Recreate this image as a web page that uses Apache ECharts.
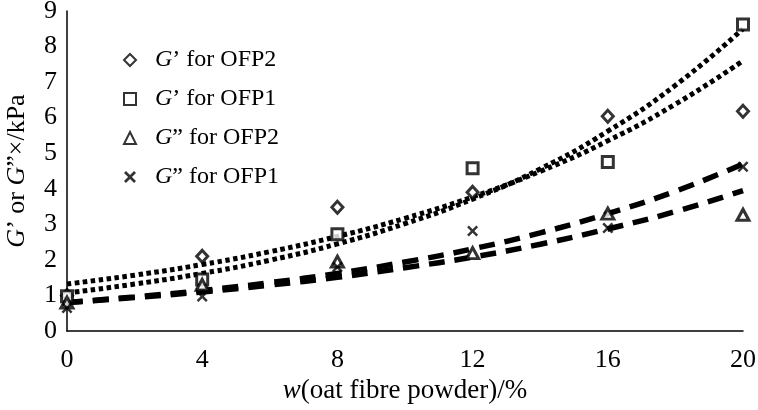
<!DOCTYPE html>
<html><head><meta charset="utf-8">
<script src="https://cdn.jsdelivr.net/npm/echarts@6/dist/echarts.min.js"></script>
<style>html,body{margin:0;padding:0;background:#fff}#c{width:758px;height:410px}</style>
</head><body><div id="c"></div>
<script>
const xTicks = [0, 4, 8, 12, 16, 20];
const gp_ofp2 = [1.0, 2.1, 3.48, 3.9, 6.04, 6.18];
const gp_ofp1 = [0.98, 1.45, 2.72, 4.58, 4.75, 8.62];
const gpp_ofp2 = [0.8, 1.3, 1.95, 2.19, 3.3, 3.27];
const gpp_ofp1 = [0.65, 0.97, 1.8, 2.81, 2.9, 4.62];
// trendlines
const trendX = [0, 2, 4, 6, 8, 10, 12, 14, 16, 18, 20];
const trend_gp_ofp2 = [1.32, 1.57, 1.87, 2.23, 2.66, 3.17, 3.77, 4.49, 5.35, 6.38, 7.6];
const trend_gp_ofp1 = [1.07, 1.32, 1.62, 1.99, 2.45, 3.02, 3.71, 4.56, 5.62, 6.91, 8.5];
const trend_gpp_ofp2 = [0.80, 0.94, 1.10, 1.29, 1.51, 1.78, 2.08, 2.44, 2.87, 3.36, 3.95];
const trend_gpp_ofp1 = [0.80, 0.96, 1.14, 1.36, 1.62, 1.94, 2.31, 2.76, 3.30, 3.93, 4.7];
const names = ['G’ for OFP2', 'G’ for OFP1', 'G” for OFP2', 'G” for OFP1'];

const FONT = 'Liberation Serif';
const pair = (xs, ys) => xs.map((x, i) => [x, ys[i]]);
const XPATH = 'path://M0,1.6L1.6,0L5,3.4L8.4,0L10,1.6L6.6,5L10,8.4L8.4,10L5,6.6L1.6,10L0,8.4L3.4,5Z';
const hollow = {color: '#fff', borderColor: '#000', borderWidth: 3};

const chart = echarts.init(document.getElementById('c'), null, {renderer: 'canvas'});
const dotted = {color: '#000', width: 5, type: [4.5, 3.5], cap: 'butt'};
const dashed = {color: '#000', width: 5.5, type: [16, 10], cap: 'butt'};
const trend = (data, ls) => ({type: 'line', data: pair(trendX, data), smooth: true, showSymbol: false,
  symbol: 'none', lineStyle: ls, silent: true, z: 3});
const rt = (sz) => ({fontFamily: FONT, color: '#000', fontSize: sz,
  rich: {i: {fontStyle: 'italic', fontFamily: FONT, fontSize: sz}, n: {fontFamily: FONT, fontSize: sz}, s: {width: 14}}});
chart.setOption({
  animation: false,
  textStyle: {fontFamily: FONT, color: '#000'},
  grid: {left: 67, right: 15, top: 11, bottom: 79, containLabel: false, outerBoundsMode: 'none'},
  legend: {
    orient: 'vertical', left: 118, top: 43, itemGap: 15, itemWidth: 12, itemHeight: 12,
    data: names,
    formatter: function (n) { return '{s|}{i|G}{n|' + n.slice(1) + '}'; },
    textStyle: rt(24)
  },
  xAxis: {
    type: 'value', min: 0, max: 20, interval: 4,
    name: '{i|w}{n|(oat fibre powder)/%}', nameLocation: 'middle', nameGap: 46,
    nameTextStyle: rt(27),
    axisLine: {lineStyle: {color: '#000', width: 1.5}}, axisTick: {show: false}, splitLine: {show: false},
    axisLabel: {fontFamily: FONT, color: '#000', fontSize: 26, margin: 16}
  },
  yAxis: {
    type: 'value', min: 0, max: 9, interval: 1,
    name: '{i|G}{n|’ or }{i|G}{n|”×/kPa}', nameLocation: 'middle', nameGap: 37, nameRotate: 90,
    nameTextStyle: rt(26),
    axisLine: {show: true, lineStyle: {color: '#000', width: 1.5}}, axisTick: {show: false}, splitLine: {show: false},
    axisLabel: {fontFamily: FONT, color: '#000', fontSize: 26, margin: 10}
  },
  series: [
    {name: names[0], type: 'scatter', data: pair(xTicks, gp_ofp2), symbol: 'diamond', symbolSize: [11, 12], itemStyle: hollow, z: 4},
    {name: names[1], type: 'scatter', data: pair(xTicks, gp_ofp1), symbol: 'rect', symbolSize: 11, itemStyle: hollow, z: 4},
    {name: names[2], type: 'scatter', data: pair(xTicks, gpp_ofp2), symbol: 'triangle', symbolSize: [12, 11], itemStyle: hollow, z: 4},
    {name: names[3], type: 'scatter', data: pair(xTicks, gpp_ofp1), symbol: XPATH, symbolSize: 11, itemStyle: {color: '#000', borderWidth: 0}, z: 4},
    trend(trend_gp_ofp2, dotted),
    trend(trend_gp_ofp1, dotted),
    trend(trend_gpp_ofp2, dashed),
    trend(trend_gpp_ofp1, dashed)
  ]
});
</script></body></html>
